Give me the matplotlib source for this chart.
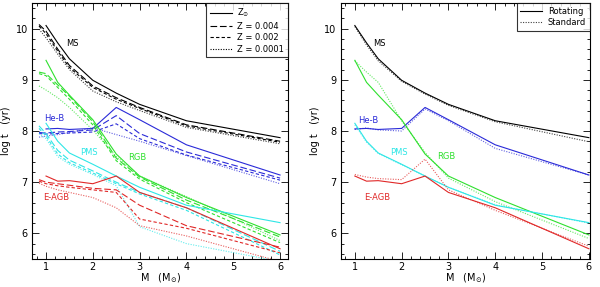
import matplotlib
matplotlib.use("Agg")
import matplotlib.pyplot as plt
from matplotlib.ticker import MultipleLocator
from matplotlib.lines import Line2D

# ---------------- data ----------------
m_low = [0.85, 1, 1.25, 1.5, 2, 2.5, 3, 4, 6]
m_sun = [1, 1.25, 1.5, 2, 2.5, 3, 4, 6]

# left panel: metallicity comparison
ms_sun = [10.06, 9.72, 9.41, 8.99, 8.74, 8.52, 8.20, 7.87]
ms_z004 = [10.08, 9.95, 9.60, 9.28, 8.88, 8.65, 8.46, 8.12, 7.80]
ms_z002 = [10.05, 9.90, 9.56, 9.24, 8.85, 8.62, 8.44, 8.10, 7.78]
ms_z0001 = [9.99, 9.82, 9.50, 9.20, 8.78, 8.57, 8.40, 8.07, 7.75]

heb_sun = [8.04, 8.05, 8.03, 8.05, 8.46, 8.22, 7.73, 7.14]
heb_z004 = [7.97, 7.96, 7.98, 7.99, 8.02, 8.30, 7.95, 7.59, 7.08]
heb_z002 = [7.95, 7.94, 7.95, 7.96, 7.98, 8.14, 7.85, 7.53, 7.04]
heb_z0001 = [7.88, 7.90, 7.93, 7.97, 8.06, 7.93, 7.80, 7.52, 6.97]

rgb_sun = [9.38, 8.95, 8.70, 8.22, 7.55, 7.12, 6.70, 5.97]
rgb_z004 = [9.15, 9.12, 8.90, 8.68, 8.18, 7.47, 7.10, 6.65, 5.93]
rgb_z002 = [9.12, 9.08, 8.85, 8.62, 8.12, 7.42, 7.06, 6.60, 5.82]
rgb_z0001 = [8.88, 8.80, 8.65, 8.46, 8.02, 7.50, 7.12, 6.72, 5.86]

pms_sun = [8.15, 7.80, 7.57, 7.35, 7.12, 6.90, 6.55, 6.21]
pms_z004 = [8.10, 7.95, 7.62, 7.43, 7.22, 7.00, 6.80, 6.50, 5.65]
pms_z002 = [8.05, 7.90, 7.55, 7.38, 7.18, 6.97, 6.77, 6.45, 5.58]
pms_z0001 = [7.95, 7.85, 7.50, 7.35, 7.15, 6.93, 6.13, 5.80, 5.45]

eagb_sun = [7.12, 7.02, 7.03, 6.97, 7.12, 6.80, 6.50, 5.70]
eagb_z004 = [7.05, 7.00, 6.97, 6.94, 6.88, 6.85, 6.55, 6.15, 5.73]
eagb_z002 = [7.02, 6.97, 6.93, 6.90, 6.85, 6.80, 6.28, 6.10, 5.62]
eagb_z0001 = [6.98, 6.92, 6.85, 6.80, 6.70, 6.50, 6.15, 5.95, 5.45]

# right panel: rotating (solar, above) vs standard
ms_std = [10.04, 9.68, 9.37, 8.97, 8.72, 8.50, 8.18, 7.79]
heb_std = [8.03, 8.06, 8.02, 8.00, 8.43, 8.20, 7.66, 7.14]
rgb_std = [9.37, 9.15, 8.95, 8.20, 7.58, 7.08, 6.62, 5.90]
pms_std = [8.12, 7.78, 7.56, 7.34, 7.12, 6.90, 6.56, 6.20]
eagb_std = [7.15, 7.10, 7.07, 7.05, 7.45, 6.85, 6.45, 5.75]

legend_left = ["Z$_{\\odot}$", "Z = 0.004", "Z = 0.002", "Z = 0.0001"]
legend_right = ["Rotating", "Standard"]
phase_labels = ["MS", "He-B", "PMS", "RGB", "E-AGB"]

# ---------------- style ----------------
C = {"MS": "#000000", "He-B": "#2a2ad8", "RGB": "#2ee02e",
     "PMS": "#2ee6e6", "E-AGB": "#e02828"}
LS = {"sun": "-", "z004": (0, (6, 2.5)), "z002": (0, (3, 2)),
      "z0001": (0, (1, 1.3))}
LW = 0.8

plt.rcParams["font.family"] = ["DejaVu Sans"]
fig = plt.figure(figsize=(6.0, 2.87), dpi=100)
axL = fig.add_axes([0.0533, 0.0976, 0.4267, 0.892])
axR = fig.add_axes([0.568, 0.0976, 0.415, 0.892])

left_sets = {
    "MS": (ms_sun, ms_z004, ms_z002, ms_z0001),
    "He-B": (heb_sun, heb_z004, heb_z002, heb_z0001),
    "RGB": (rgb_sun, rgb_z004, rgb_z002, rgb_z0001),
    "PMS": (pms_sun, pms_z004, pms_z002, pms_z0001),
    "E-AGB": (eagb_sun, eagb_z004, eagb_z002, eagb_z0001),
}
for ph, (s, a, b, c) in left_sets.items():
    col = C[ph]
    axL.plot(m_sun, s, color=col, lw=LW, ls=LS["sun"])
    axL.plot(m_low, a, color=col, lw=LW, ls=LS["z004"])
    axL.plot(m_low, b, color=col, lw=LW, ls=LS["z002"])
    axL.plot(m_low, c, color=col, lw=LW, ls=LS["z0001"], alpha=0.75)

right_sets = {
    "MS": (ms_sun, ms_std), "He-B": (heb_sun, heb_std),
    "RGB": (rgb_sun, rgb_std), "PMS": (pms_sun, pms_std),
    "E-AGB": (eagb_sun, eagb_std),
}
for ph, (s, d) in right_sets.items():
    col = C[ph]
    axR.plot(m_sun, s, color=col, lw=LW, ls="-")
    axR.plot(m_sun, d, color=col, lw=LW, ls=LS["z0001"], alpha=0.75)

# phase labels
lab_left = {"MS": (1.42, 9.70), "He-B": (0.97, 8.25), "PMS": (1.73, 7.58),
            "RGB": (2.75, 7.48), "E-AGB": (0.94, 6.70)}
lab_right = {"MS": (1.40, 9.70), "He-B": (1.08, 8.20), "PMS": (1.75, 7.58),
             "RGB": (2.75, 7.50), "E-AGB": (1.20, 6.70)}
for ax, labs in ((axL, lab_left), (axR, lab_right)):
    for ph in phase_labels:
        x, y = labs[ph]
        ax.text(x, y, ph, color=C[ph], fontsize=6, ha="left", va="center")

for ax, xmax in ((axL, 6.17), (axR, 6.02)):
    ax.set_xlim(0.7, xmax)
    ax.set_ylim(5.5, 10.5)
    ax.xaxis.set_major_locator(MultipleLocator(1))
    ax.xaxis.set_minor_locator(MultipleLocator(0.2))
    ax.yaxis.set_major_locator(MultipleLocator(1))
    ax.yaxis.set_minor_locator(MultipleLocator(0.2))
    ax.tick_params(which="both", direction="in", top=True, right=True,
                   labelsize=7, width=0.6)
    ax.tick_params(axis="x", pad=2)
    ax.tick_params(axis="y", pad=3)
    ax.tick_params(which="major", length=5)
    ax.tick_params(which="minor", length=2.5)
    for sp in ax.spines.values():
        sp.set_linewidth(0.8)
    ax.set_xlabel("M   (M$_{\\odot}$)", fontsize=7, labelpad=0)
    ax.set_ylabel("log t   (yr)", fontsize=7, labelpad=3)

hl = [Line2D([], [], color="k", lw=LW, ls=LS[k])
      for k in ("sun", "z004", "z002", "z0001")]
legL = axL.legend(hl, legend_left, loc="upper right", fontsize=6,
                  frameon=True, fancybox=False, edgecolor="k",
                  borderaxespad=0, handlelength=2.6, labelspacing=0.3,
                  handletextpad=0.7, borderpad=0.45)
legL.get_frame().set_linewidth(0.8)

hr = [Line2D([], [], color="k", lw=LW, ls="-"),
      Line2D([], [], color="k", lw=LW, ls=LS["z0001"], alpha=0.75)]
legR = axR.legend(hr, legend_right, loc="upper right", fontsize=6,
                  frameon=True, fancybox=False, edgecolor="k",
                  borderaxespad=0, handlelength=2.6, labelspacing=0.3,
                  handletextpad=0.7, borderpad=0.45)
legR.get_frame().set_linewidth(0.8)

fig.savefig("out.png", dpi=100)
